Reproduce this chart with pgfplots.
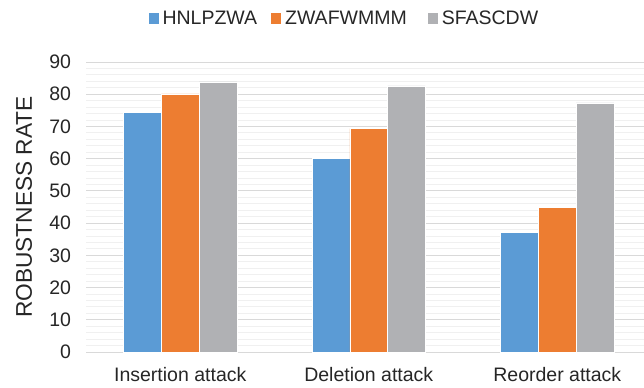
\documentclass[border=0pt]{standalone}
\usepackage{fontspec}
\setmainfont{Liberation Sans}
\usepackage{pgfplots}
\pgfplotsset{compat=1.18}

\definecolor{cblue}{HTML}{5B9BD5}
\definecolor{corange}{HTML}{ED7D31}
\definecolor{cgray}{HTML}{B0B1B4}
\definecolor{txt}{HTML}{262626}
\definecolor{gridmajor}{HTML}{D9D9D9}
\definecolor{gridminor}{HTML}{F0F0F0}

\newcommand\cf{\fontsize{19.5bp}{23bp}\selectfont}
\newcommand\lf{\fontsize{22.7bp}{26bp}\selectfont}

\begin{document}
\begin{tikzpicture}[x=1bp,y=1bp]
\begin{axis}[
  at={(86bp,35bp)}, anchor=south west,
  scale only axis, width=558bp, height=290bp,
  xmin=-0.5, xmax=2.46, ymin=0, ymax=90,
  ytick={0,10,...,90}, minor y tick num=4,
  xtick={0,1,2},
  xticklabels={Insertion attack, Deletion attack, Reorder attack},
  /pgf/number format/assume math mode=true,
  major tick length=0pt, minor tick length=0pt,
  tick style={draw=none},
  axis x line*=bottom, axis y line*=left,
  separate axis lines,
  x axis line style={draw=gridmajor, line width=0.9bp, -},
  y axis line style={draw=none},
  ymajorgrids, yminorgrids,
  major grid style={draw=gridmajor, line width=0.9bp},
  minor grid style={draw=gridminor, line width=0.9bp},
  tick label style={font=\cf, text=txt},
  xticklabel style={yshift=-12bp},
  yticklabel style={xshift=-11.5bp},
  ylabel={ROBUSTNESS RATE},
  ylabel style={font=\lf, text=txt, at={(axis description cs:-0.111,0.5)}, anchor=center},
  ybar, bar width=0.2,
  legend columns=3,
  legend style={at={(axis description cs:0.1117,1.15)}, anchor=west,
    draw=none, fill=none, inner sep=0pt, font=\cf, text=txt,
    nodes={inner xsep=4bp},
    /tikz/column 2/.append style={column sep=10bp},
    /tikz/column 4/.append style={column sep=17bp}},
  legend image code/.code={\path[#1, draw=none, fill] (0bp,-5.3bp) rectangle (10bp,5.3bp);},
]
\addplot[bar shift=-0.2, fill=cblue, draw=white, line width=0.6bp]
  coordinates {(0,74.3) (1,60.0) (2,37.2)};
\addplot[bar shift=0, fill=corange, draw=white, line width=0.6bp]
  coordinates {(0,80.1) (1,69.3) (2,44.8)};
\addplot[bar shift=0.2, fill=cgray, draw=white, line width=0.6bp]
  coordinates {(0,83.8) (1,82.6) (2,77.3)};
\legend{HNLPZWA, ZWAFWMMM, SFASCDW}
\end{axis}
\pgfresetboundingbox
\useasboundingbox (0,0) rectangle (644,387);
\end{tikzpicture}
\end{document}
